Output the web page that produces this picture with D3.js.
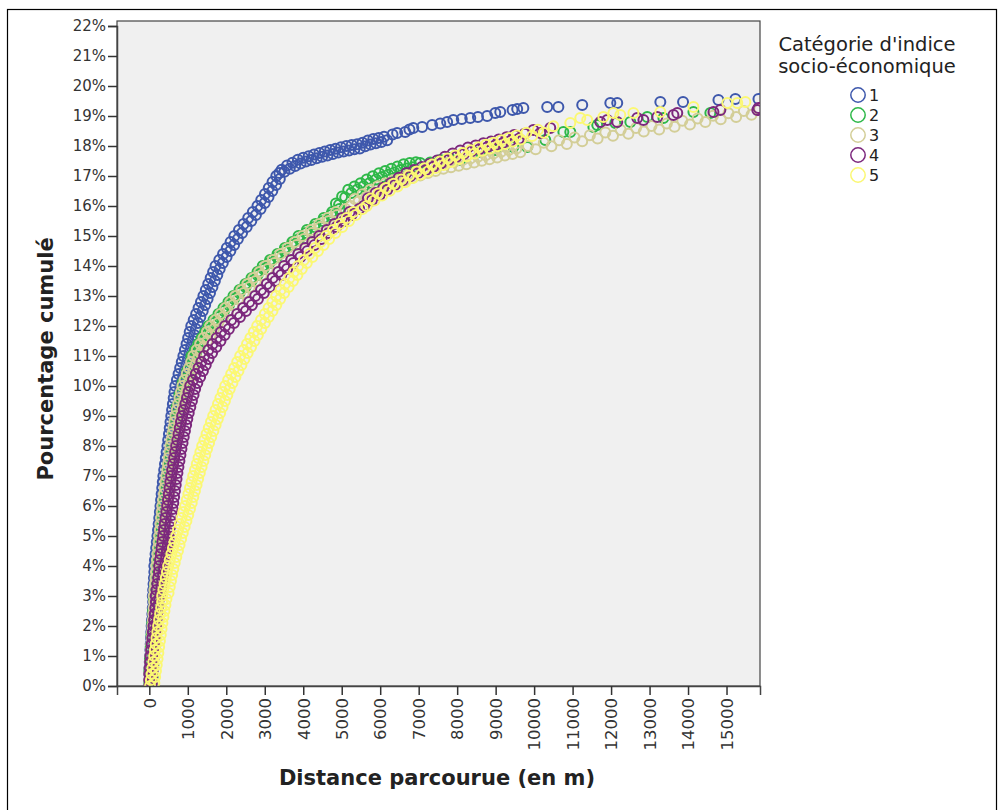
<!DOCTYPE html>
<html><head><meta charset="utf-8">
<script src="https://cdn.jsdelivr.net/npm/d3@7"></script>
<style>body{margin:0;background:#fff}svg{display:block}</style>
</head><body><svg id="c" width="998" height="810"></svg>
<script>
const categories = ["1","2","3","4","5"];
const xTickValues = [0,1000,2000,3000,4000,5000,6000,7000,8000,9000,10000,11000,12000,13000,14000,15000];
const yTickValues = [0,1,2,3,4,5,6,7,8,9,10,11,12,13,14,15,16,17,18,19,20,21,22];

// [distance (m), cumulative %]
const cat1 = [[0,0],[64,0.1],[0,0.2],[72,0.3],[0,0.4],[80,0.5],[4,0.6],[88,0.7],[12,0.8],[96,0.9],
[20,1],[104,1.1],[28,1.2],[112,1.3],[36,1.4],[120,1.5],[44,1.6],[128,1.7],[52,1.8],[136,1.9],
[60,2],[145,2.1],[70,2.2],[155,2.3],[80,2.4],[165,2.5],[90,2.6],[175,2.7],[100,2.8],[185,2.9],
[90,3],[215,3.1],[100,3.2],[225,3.3],[110,3.4],[235,3.5],[120,3.6],[245,3.7],[130,3.8],[255,3.9],
[130,4],[278,4.1],[146,4.2],[294,4.3],[162,4.4],[310,4.5],[178,4.6],[326,4.7],[194,4.8],[342,4.9],
[210,5],[358,5.1],[226,5.2],[374,5.3],[242,5.4],[390,5.5],[258,5.6],[406,5.7],[274,5.8],[422,5.9],
[290,6],[437,6.1],[305,6.2],[452,6.3],[320,6.4],[467,6.5],[335,6.6],[482,6.7],[350,6.8],[497,6.9],
[365,7],[515,7.1],[386,7.2],[536,7.3],[407,7.4],[557,7.5],[428,7.6],[578,7.7],[449,7.8],[599,7.9],
[470,8],[620,8.1],[490,8.2],[640,8.3],[510,8.4],[660,8.5],[530,8.6],[680,8.7],[550,8.8],[700,8.9],
[570,9],[721,9.1],[591,9.2],[742,9.3],[612,9.4],[763,9.5],[633,9.6],[784,9.7],[654,9.8],[805,9.9],
[675,10],[836,10.1],[717,10.2],[878,10.3],[759,10.4],[920,10.5],[801,10.6],[962,10.7],[843,10.8],[1004,10.9],
[885,11],[1046,11.1],[926,11.2],[1087,11.3],[967,11.4],[1128,11.5],[1008,11.6],[1169,11.7],[1049,11.8],[1210,11.9],
[1090,12],[1262,12.1],[1153,12.2],[1325,12.3],[1216,12.4],[1388,12.5],[1279,12.6],[1451,12.7],[1342,12.8],[1514,12.9],
[1405,13],[1577,13.1],[1468,13.2],[1640,13.3],[1531,13.4],[1703,13.5],[1594,13.6],[1766,13.7],[1657,13.8],[1829,13.9],
[1720,14],[1909,14.1],[1818,14.2],[2007,14.3],[1916,14.4],[2105,14.5],[2014,14.6],[2203,14.7],[2112,14.8],[2301,14.9],
[2210,15],[2410,15.1],[2330,15.2],[2530,15.3],[2450,15.4],[2650,15.5],[2570,15.6],[2770,15.7],[2690,15.8],[2890,15.9],
[2810,16],[2999,16.1],[2908,16.2],[3097,16.3],[3006,16.4],[3195,16.5],[3104,16.6],[3293,16.7],[3202,16.8],[3391,16.9],
[3300,17.0],[3440,17.21],[3380,17.1],[3510,17.14],[3580,17.35],[3650,17.24],[3720,17.44],[3790,17.33],[3860,17.54],[3930,17.42],[4000,17.61],[4070,17.48],
[4140,17.66],[4210,17.53],[4280,17.72],[4350,17.59],[4420,17.77],[4490,17.64],[4560,17.82],[4630,17.68],[4700,17.87],[4770,17.73],
[4840,17.91],[4910,17.78],[4980,17.96],[5050,17.82],[5120,18.0],[5190,17.85],[5260,18.03],[5330,17.89],[5400,18.06],[5470,17.92],
[5540,18.11],[5610,17.99],[5680,18.18],[5750,18.05],[5820,18.23],[5890,18.09],[5960,18.27],[6030,18.13],[6100,18.31],[6180,18.19],
[6320,18.38],[6440,18.43],[6650,18.47],[6760,18.55],[6860,18.6],[7090,18.63],[7350,18.7],[7560,18.75],[7740,18.8],[7900,18.87],
[8120,18.9],[8340,18.93],[8540,18.97],[8780,19.0],[8990,19.1],[9120,19.13],[9440,19.2],[9560,19.23],[9720,19.27],[10340,19.3],
[10630,19.3],[11250,19.37],[11980,19.43],[12160,19.43],[13280,19.47],[13870,19.47],[14790,19.53],[15230,19.57],[15830,19.57]];

const cat2 = [[0,0.1],[85,0.3],[0,0.5],[105,0.7],[15,0.9],[125,1.1],[36,1.3],[146,1.5],[57,1.7],[167,1.9],
[77,2.1],[188,2.3],[98,2.5],[209,2.7],[119,2.9],[232,3.1],[147,3.3],[263,3.5],[179,3.7],[294,3.9],
[210,4.1],[325,4.3],[241,4.5],[356,4.7],[272,4.9],[388,5.1],[303,5.3],[419,5.5],[334,5.7],[450,5.9],
[368,6.1],[489,6.3],[410,6.5],[531,6.7],[452,6.9],[572,7.1],[493,7.3],[614,7.5],[535,7.7],[656,7.9],
[579,8.1],[705,8.3],[631,8.5],[757,8.7],[683,8.9],[774,9.1],[711,9.3],[847,9.5],[784,9.7],[920,9.9],
[867,10.1],[1024,10.3],[981,10.5],[1138,10.7],[1095,10.9],
[1094,11],[1218,11.1],[1182,11.2],[1307,11.3],[1271,11.4],[1395,11.5],[1359,11.6],[1483,11.7],[1448,11.8],[1572,11.9],
[1536,12],[1681,12.1],[1666,12.2],[1811,12.3],[1796,12.4],[1941,12.5],[1926,12.6],[2071,12.7],[2056,12.8],[2201,12.9],
[2186,13],[2344,13.1],[2342,13.2],[2500,13.3],[2498,13.4],[2656,13.5],[2654,13.6],[2812,13.7],[2810,13.8],[2968,13.9],
[2946,14],[3122,14.1],[3138,14.2],[3315,14.3],[3331,14.4],[3507,14.5],[3523,14.6],[3699,14.7],[3716,14.8],[3892,14.9],
[3878,15],[4067,15.1],[4096,15.2],[4286,15.3],[4315,15.4],[4504,15.5],[4533,15.6],[4722,15.7],[4752,15.8],[4941,15.9],
[4850,16.08],[4930,16.04],[5010,16.32],[5090,16.28],[5170,16.54],[5250,16.43],[5330,16.65],[5410,16.55],[5490,16.76],[5570,16.66],
[5650,16.88],[5730,16.77],[5810,16.99],[5890,16.88],[5970,17.09],[6050,16.97],[6130,17.17],[6210,17.04],[6290,17.24],[6370,17.12],
[6450,17.32],[6530,17.2],[6610,17.39],[6690,17.25],[6770,17.43],[6850,17.29],[6930,17.46],
[7040,17.43],[7300,17.45],[7560,17.53],[7800,17.6],[8080,17.53],[8600,17.8],[8990,17.87],[9460,17.97],[9820,17.97],[10290,18.2],
[10760,18.47],[10940,18.47],[11540,18.63],[11640,18.7],[12110,18.77],[12500,18.8],[12940,18.97],[13360,18.93],[14140,19.13],[14580,19.1]];

const cat3 = [[0,0],[63,0.1],[0,0.2],[74,0.3],[0,0.4],[84,0.5],[9,0.6],[94,0.7],[20,0.8],[105,0.9],
[30,1],[115,1.1],[40,1.2],[126,1.3],[51,1.4],[136,1.5],[61,1.6],[146,1.7],[72,1.8],[157,1.9],
[82,2],[167,2.1],[92,2.2],[178,2.3],[103,2.4],[188,2.5],[113,2.6],[198,2.7],[124,2.8],[209,2.9],
[114,3],[242,3.1],[130,3.2],[257,3.3],[145,3.4],[273,3.5],[161,3.6],[289,3.7],[176,3.8],[304,3.9],
[182,4],[330,4.1],[198,4.2],[345,4.3],[213,4.4],[361,4.5],[229,4.6],[377,4.7],[244,4.8],[392,4.9],
[260,5],[408,5.1],[276,5.2],[423,5.3],[291,5.4],[439,5.5],[307,5.6],[455,5.7],[322,5.8],[470,5.9],
[338,6],[488,6.1],[359,6.2],[509,6.3],[380,6.4],[530,6.5],[400,6.6],[551,6.7],[421,6.8],[572,6.9],
[442,7],[592,7.1],[463,7.2],[613,7.3],[484,7.4],[634,7.5],[504,7.6],[655,7.7],[525,7.8],[676,7.9],
[546,8],[699,8.1],[572,8.2],[725,8.3],[598,8.4],[751,8.5],[624,8.6],[777,8.7],[650,8.8],[803,8.9],
[676,9],[834,9.1],[712,9.2],[871,9.3],[749,9.4],[907,9.5],[785,9.6],[943,9.7],[822,9.8],[980,9.9],
[858,10],[1027,10.1],[915,10.2],[1084,10.3],[972,10.4],[1141,10.5],[1030,10.6],[1198,10.7],[1087,10.8],[1255,10.9],
[1144,11],[1328,11.1],[1232,11.2],[1417,11.3],[1321,11.4],[1505,11.5],[1409,11.6],[1593,11.7],[1498,11.8],[1682,11.9],
[1586,12],[1791,12.1],[1716,12.2],[1921,12.3],[1846,12.4],[2051,12.5],[1976,12.6],[2181,12.7],[2106,12.8],[2311,12.9],
[2236,13],[2454,13.1],[2392,13.2],[2610,13.3],[2548,13.4],[2766,13.5],[2704,13.6],[2922,13.7],[2860,13.8],[3078,13.9],
[3016,14],[3252,14.1],[3208,14.2],[3445,14.3],[3401,14.4],[3637,14.5],[3593,14.6],[3829,14.7],[3786,14.8],[4022,14.9],
[3978,15],[4227,15.1],[4196,15.2],[4445,15.3],[4414,15.4],[4663,15.5],[4632,15.6],[4881,15.7],[4850,15.8],[5099,15.9],
[5240,16.0],[5340,16.23],[5440,16.15],[5540,16.39],[5640,16.3],[5740,16.54],[5840,16.45],[5940,16.66],[6040,16.55],[6140,16.76],
[6240,16.65],[6340,16.86],[6440,16.75],[6540,16.96],[6640,16.85],[6740,17.06],[6840,16.94],[6940,17.14],[7040,17.02],[7140,17.22],
[7240,17.1],[7340,17.3],[7440,17.17],[7540,17.37],[7640,17.24],[7740,17.43],[7840,17.29],[7940,17.48],[8040,17.34],[8140,17.53],
[8240,17.39],[8340,17.58],[8440,17.45],[8540,17.64],[8640,17.51],[8740,17.69],[8840,17.56],[8940,17.75],[9040,17.62],[9140,17.81],
[9240,17.68],[9340,17.87],[9440,17.73],[9540,17.92],[9640,17.79],[9840,18.0],[10040,17.89],[10250,18.11],[10450,17.99],[10650,18.19],
[10850,18.07],[11050,18.28],[11250,18.16],[11450,18.36],[11650,18.25],[11850,18.45],[12050,18.34],[12250,18.53],[12450,18.41],[12650,18.6],
[12850,18.48],[13050,18.67],[13250,18.55],[13450,18.75],[13650,18.64],[13850,18.84],[14050,18.72],[14250,18.92],[14450,18.8],[14650,19.01],
[14850,18.89],[15050,19.09],[15250,18.97],[15450,19.17],[15650,19.04],[15850,19.22]];

const cat4 = [[0,0],[63,0.1],[0,0.2],[74,0.3],[0,0.4],[84,0.5],[9,0.6],[94,0.7],[20,0.8],[105,0.9],
[30,1],[118,1.1],[46,1.2],[133,1.3],[61,1.4],[149,1.5],[77,1.6],[165,1.7],[92,1.8],[180,1.9],
[108,2],[196,2.1],[124,2.2],[211,2.3],[139,2.4],[227,2.5],[155,2.6],[243,2.7],[170,2.8],[258,2.9],
[166,3],[296,3.1],[187,3.2],[317,3.3],[208,3.4],[338,3.5],[228,3.6],[359,3.7],[249,3.8],[380,3.9],
[255,4],[415,4.1],[276,4.2],[436,4.3],[297,4.4],[457,4.5],[317,4.6],[478,4.7],[338,4.8],[499,4.9],
[359,5],[519,5.1],[380,5.2],[540,5.3],[401,5.4],[561,5.5],[421,5.6],[582,5.7],[442,5.8],[603,5.9],
[463,6],[623,6.1],[484,6.2],[644,6.3],[505,6.4],[665,6.5],[525,6.6],[686,6.7],[546,6.8],[707,6.9],
[567,7],[730,7.1],[593,7.2],[756,7.3],[619,7.4],[782,7.5],[645,7.6],[808,7.7],[671,7.8],[834,7.9],
[697,8],[863,8.1],[728,8.2],[894,8.3],[759,8.4],[925,8.5],[791,8.6],[956,8.7],[822,8.8],[987,8.9],
[853,9],[1024,9.1],[895,9.2],[1065,9.3],[936,9.4],[1107,9.5],[978,9.6],[1149,9.7],[1019,9.8],[1190,9.9],
[1061,10],[1247,10.1],[1134,10.2],[1320,10.3],[1207,10.4],[1393,10.5],[1279,10.6],[1466,10.7],[1352,10.8],[1538,10.9],
[1425,11],[1630,11.1],[1534,11.2],[1739,11.3],[1643,11.4],[1848,11.5],[1753,11.6],[1957,11.7],[1862,11.8],[2067,11.9],
[1971,12],[2199,12.1],[2127,12.2],[2355,12.3],[2283,12.4],[2511,12.5],[2439,12.6],[2667,12.7],[2595,12.8],[2823,12.9],
[2751,13],[2976,13.1],[2902,13.2],[3127,13.3],[3053,13.4],[3278,13.5],[3203,13.6],[3429,13.7],[3354,13.8],[3580,13.9],
[3505,14],[3746,14.1],[3687,14.2],[3928,14.3],[3869,14.4],[4110,14.5],[4051,14.6],[4292,14.7],[4233,14.8],[4474,14.9],
[4415,15],[4664,15.1],[4613,15.2],[4861,15.3],[4810,15.4],[5059,15.5],[5008,15.6],[5257,15.7],[5205,15.8],[5454,15.9],
[5580,16.01],[5680,16.26],[5780,16.18],[5880,16.43],[5980,16.36],[6080,16.61],[6180,16.53],[6280,16.77],[6380,16.7],[6480,16.94],
[6580,16.86],[6680,17.1],[6780,16.99],[6880,17.2],[6980,17.09],[7080,17.3],[7180,17.19],[7280,17.4],[7380,17.3],[7480,17.52],
[7580,17.42],[7680,17.64],[7780,17.54],[7880,17.75],[7980,17.64],[8080,17.85],[8180,17.74],[8280,17.95],[8380,17.83],[8480,18.02],
[8580,17.89],[8680,18.09],[8780,17.96],[8880,18.15],[8980,18.02],[9080,18.22],[9180,18.09],[9280,18.29],[9380,18.17],[9480,18.37],
[9600,18.24],[9750,18.41],[9980,18.53],[10160,18.43],[10420,18.6],[11720,18.8],[11900,18.87],[12160,18.8],[12680,18.93],[12840,18.87],
[13200,18.97],[13620,19.03],[13720,19.1],[14660,19.13],[14840,19.2],[15800,19.2],[15830,19.27]];

const cat5 = [[20,0],[130,0.1],[41,0.2],[151,0.3],[62,0.4],[172,0.5],[82,0.6],[193,0.7],[103,0.8],[214,0.9],
[124,1],[234,1.1],[145,1.2],[255,1.3],[166,1.4],[276,1.5],[186,1.6],[297,1.7],[207,1.8],[318,1.9],
[228,2],[341,2.1],[254,2.2],[367,2.3],[280,2.4],[393,2.5],[306,2.6],[419,2.7],[332,2.8],[445,2.9],
[333,3],[499,3.1],[364,3.2],[530,3.3],[395,3.4],[561,3.5],[427,3.6],[592,3.7],[458,3.8],[624,3.9],
[489,4],[660,4.1],[531,4.2],[701,4.3],[572,4.4],[743,4.5],[614,4.6],[785,4.7],[655,4.8],[826,4.9],
[697,5],[870,5.1],[744,5.2],[917,5.3],[791,5.4],[964,5.5],[837,5.6],[1011,5.7],[884,5.8],[1057,5.9],
[931,6],[1102,6.1],[973,6.2],[1143,6.3],[1014,6.4],[1185,6.5],[1056,6.6],[1227,6.7],[1097,6.8],[1268,6.9],
[1139,7],[1312,7.1],[1186,7.2],[1359,7.3],[1233,7.4],[1406,7.5],[1279,7.6],[1453,7.7],[1326,7.8],[1500,7.9],
[1373,8],[1552,8.1],[1430,8.2],[1609,8.3],[1487,8.4],[1666,8.5],[1545,8.6],[1723,8.7],[1602,8.8],[1780,8.9],
[1659,9],[1840,9.1],[1721,9.2],[1903,9.3],[1784,9.4],[1965,9.5],[1846,9.6],[2027,9.7],[1909,9.8],[2090,9.9],
[1971,10],[2160,10.1],[2049,10.2],[2238,10.3],[2127,10.4],[2316,10.5],[2205,10.6],[2394,10.7],[2283,10.8],[2472,10.9],
[2361,11],[2555,11.1],[2449,11.2],[2644,11.3],[2538,11.4],[2732,11.5],[2626,11.6],[2820,11.7],[2715,11.8],[2909,11.9],
[2803,12],[3002,12.1],[2902,12.2],[3101,12.3],[3001,12.4],[3200,12.5],[3099,12.6],[3299,12.7],[3198,12.8],[3398,12.9],
[3297,13],[3504,13.1],[3411,13.2],[3619,13.3],[3526,13.4],[3733,13.5],[3640,13.6],[3847,13.7],[3755,13.8],[3962,13.9],
[3869,14],[4092,14.1],[4015,14.2],[4237,14.3],[4160,14.4],[4383,14.5],[4306,14.6],[4529,14.7],[4452,14.8],[4674,14.9],
[4597,15],[4835,15.1],[4774,15.2],[5012,15.3],[4951,15.4],[5189,15.5],[5127,15.6],[5366,15.7],[5304,15.8],[5543,15.9],
[5650,16.0],[5750,16.25],[5850,16.18],[5950,16.42],[6050,16.35],[6150,16.6],[6250,16.51],[6350,16.74],[6450,16.65],[6550,16.88],
[6650,16.79],[6750,17.02],[6850,16.93],[6950,17.15],[7050,17.05],[7150,17.26],[7250,17.16],[7350,17.38],[7450,17.27],[7550,17.48],
[7650,17.37],[7750,17.58],[7850,17.47],[7950,17.68],[8050,17.57],[8150,17.77],[8250,17.66],[8350,17.86],[8450,17.75],[8550,17.96],
[8650,17.84],[8750,18.04],[8850,17.92],[8950,18.11],[9050,17.99],[9150,18.19],[9250,18.07],[9350,18.27],[9450,18.15],[9550,18.35],
[9650,18.22],[9800,18.44],[9950,18.33],[10100,18.54],[10250,18.44],[10500,18.66],[10940,18.77],[11200,18.93],[11380,18.87],[11800,18.97],
[12060,19.1],[12240,19.03],[12580,19.1],[13280,19.13],[14140,19.3],[15020,19.43],[15280,19.43],[15490,19.47]];

const seriesData = [cat1, cat2, cat3, cat4, cat5];
const colors = ["#3E58AC", "#2EB848", "#D3CE97", "#7C287D", "#FBF873"];

const svg = d3.select("#c");
const FONT = "'DejaVu Sans', 'Lucida Grande', sans-serif";

svg.append("rect").attr("x", 7.5).attr("y", 9.5).attr("width", 989).attr("height", 820)
  .attr("fill", "none").attr("stroke", "#000").attr("stroke-width", 1.2);

const x = d3.scaleLinear().domain([-840, 15870]).range([117, 760]);
const y = d3.scaleLinear().domain([0, 22]).range([686, 26]);

svg.append("rect").attr("x", 117).attr("y", 21).attr("width", 643).attr("height", 665)
  .attr("fill", "#f0f0f0").attr("stroke", "#444").attr("stroke-width", 1.2);

const clip = svg.append("clipPath").attr("id", "pc");
clip.append("rect").attr("x", 117).attr("y", 21).attr("width", 643).attr("height", 665);

const pts = svg.append("g").attr("clip-path", "url(#pc)");
seriesData.forEach((data, i) => {
  pts.append("g").selectAll("circle").data(data).join("circle")
    .attr("cx", d => x(d[0])).attr("cy", d => y(d[1])).attr("r", 5)
    .attr("fill", "none").attr("stroke", colors[i]).attr("stroke-width", 2);
});

const yAxis = d3.axisLeft(y).tickValues(yTickValues).tickFormat(d => d + "%").tickSize(9).tickPadding(2);
const gy = svg.append("g").attr("transform", "translate(117,0)").call(yAxis);
gy.select(".domain").attr("stroke", "#444").attr("stroke-width", 1.5);
gy.selectAll(".tick line").attr("stroke", "#333").attr("stroke-width", 1.5);
gy.selectAll("text").attr("font-family", FONT).attr("font-size", 15).attr("fill", "#333");

const xAxis = d3.axisBottom(x).tickValues(xTickValues).tickFormat(d3.format("d")).tickSize(9).tickPadding(2);
const gx = svg.append("g").attr("transform", "translate(0,686)").call(xAxis);
gx.select(".domain").attr("stroke", "#444").attr("stroke-width", 1.5);
gx.selectAll(".tick line").attr("stroke", "#333").attr("stroke-width", 1.5);
gx.selectAll("text").attr("font-family", FONT).attr("font-size", 16.5).attr("fill", "#333")
  .attr("transform", "rotate(-90)").attr("text-anchor", "end")
  .attr("x", -12).attr("y", 0).attr("dy", "0.35em");

svg.append("text").attr("x", 437).attr("y", 785).attr("text-anchor", "middle")
  .attr("font-family", FONT).attr("font-weight", "bold").attr("font-size", 21).attr("fill", "#222")
  .text("Distance parcourue (en m)");
svg.append("text").attr("transform", "translate(53,359) rotate(-90)").attr("text-anchor", "middle")
  .attr("font-family", FONT).attr("font-weight", "bold").attr("font-size", 21).attr("fill", "#222")
  .text("Pourcentage cumulé");

const lg = svg.append("g");
lg.append("text").attr("x", 867).attr("y", 51).attr("text-anchor", "middle")
  .attr("font-family", FONT).attr("font-size", 19.5).attr("fill", "#222").text("Catégorie d'indice");
lg.append("text").attr("x", 867).attr("y", 73).attr("text-anchor", "middle")
  .attr("font-family", FONT).attr("font-size", 19.5).attr("fill", "#222").text("socio-économique");
categories.forEach((c, i) => {
  lg.append("circle").attr("cx", 858).attr("cy", 95 + i * 20).attr("r", 7.2)
    .attr("fill", "none").attr("stroke", colors[i]).attr("stroke-width", 1.5);
  lg.append("text").attr("x", 869).attr("y", 95 + i * 20).attr("dy", "0.36em")
    .attr("font-family", FONT).attr("font-size", 16).attr("fill", "#222").text(c);
});
</script></body></html>
